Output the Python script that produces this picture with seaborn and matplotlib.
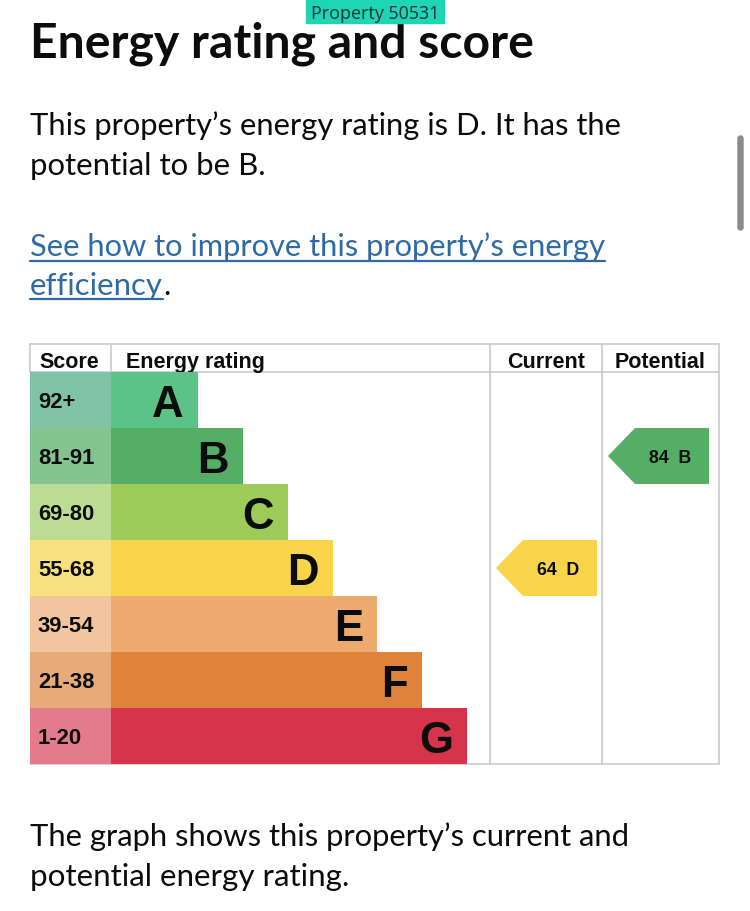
import matplotlib.pyplot as plt
import matplotlib.patches as mpatches
from matplotlib.lines import Line2D
import seaborn as sns
import pandas as pd

# ── Data ──────────────────────────────────────────────────────────────────────
bands = ["A", "B", "C", "D", "E", "F", "G"]
score_ranges = ["92+", "81-91", "69-80", "55-68", "39-54", "21-38", "1-20"]
band_floor = [92, 81, 69, 55, 39, 21, 1]
bar_lengths = [87, 132, 177, 222, 266, 311, 356]  # px
bar_colors = ["#5cc386", "#55ae65", "#9ccb5a", "#f8d44a", "#eeab70", "#e0833a", "#d6344a"]
cell_colors = ["#7fc4a5", "#84c48f", "#bddc93", "#f9e07f", "#f3c59f", "#e8aa78", "#e47b8d"]
current_score = 64
potential_score = 84

df = pd.DataFrame({"band": bands, "score": score_ranges,
                   "length": bar_lengths, "cell": [1] * len(bands)})

# ── Setup ─────────────────────────────────────────────────────────────────────
sns.set_style("white")
plt.rcParams["font.family"] = ["Lato", "DejaVu Sans"]
INK = "#0b0c0c"
LINK = "#2f6aa5"
GRID = "#c6c6c6"
TABLE_FONT = "Liberation Sans"

W, H = 750, 912
fig = plt.figure(figsize=(W / 100, H / 100), dpi=100)
bg = fig.add_axes([0, 0, 1, 1])
bg.set_xlim(0, W)
bg.set_ylim(H, 0)
bg.axis("off")
renderer = fig.canvas.get_renderer()


def put(x, y, s, width=None, **kw):
    t = bg.text(x, y, s, va="baseline", **kw)
    if width:
        w = t.get_window_extent(renderer).width
        t.set_fontsize(t.get_fontsize() * width / w)
    return t


def underline(t, y):
    ext = t.get_window_extent(renderer)
    bg.add_line(Line2D([ext.x0, ext.x1], [y, y], color=LINK, lw=1.6))


# ── Page text ─────────────────────────────────────────────────────────────────
bg.add_patch(mpatches.Rectangle((306, 0), 138, 24, color="#1fd6b4", zorder=5))
put(311, 19, "Property 50531", width=129, fontsize=13, color="#133b44",
    family="Noto Sans", zorder=6)
put(30, 57, "Energy rating and score", width=505, fontsize=32,
    fontweight="bold", color=INK)
put(30, 135, "This property\u2019s energy rating is D. It has the", width=592,
    fontsize=21, color=INK)
put(30, 175, "potential to be B.", width=236, fontsize=21, color=INK)
l1 = put(30, 256, "See how to improve this property\u2019s energy", width=576,
         fontsize=21, color=LINK)
underline(l1, 262)
l2 = put(30, 295, "efficiency", width=133, fontsize=21, color=LINK)
underline(l2, 300)
put(l2.get_window_extent(renderer).x1, 295, ".", fontsize=l2.get_fontsize(), color=INK)
put(30, 846, "The graph shows this property\u2019s current and", width=601,
    fontsize=21, color=INK)
put(30, 886, "potential energy rating.", width=320, fontsize=21, color=INK)

# scrollbar
bg.add_patch(mpatches.FancyBboxPatch((738, 137), 5, 94,
                                     boxstyle="round,pad=0,rounding_size=2.5",
                                     color="#8a8a8a"))

# ── Table frame ───────────────────────────────────────────────────────────────
cols = [30, 111, 490, 602, 719]
top, head, bottom = 345, 373, 765
bg.add_line(Line2D([cols[0], cols[-1]], [top, top], color=GRID, lw=1.1))
bg.add_line(Line2D([cols[0], cols[-1]], [head, head], color=GRID, lw=1.1))
bg.add_line(Line2D([cols[0], cols[-1]], [bottom, bottom], color=GRID, lw=1.1))
for c in cols[:2]:
    bg.add_line(Line2D([c, c], [top, head], color=GRID, lw=1.1))
for c in cols[2:]:
    bg.add_line(Line2D([c, c], [top, bottom], color=GRID, lw=1.1))

hkw = dict(fontsize=15.5, fontweight="bold", color=INK, family=TABLE_FONT)
put(39, 368, "Score", **hkw)
put(126, 368, "Energy rating", **hkw)
put((cols[2] + cols[3]) / 2, 368, "Current", ha="center", **hkw)
put((cols[3] + cols[4]) / 2, 368, "Potential", ha="center", **hkw)


def body_axes(x0, x1):
    ax = fig.add_axes([x0 / W, 1 - bottom / H, (x1 - x0) / W, (bottom - head) / H])
    ax.patch.set_alpha(0)
    return ax


ROW_PX = (bottom - head) / len(bands)

# ── Score column ──────────────────────────────────────────────────────────────
ax_s = body_axes(cols[0], cols[1])
sns.barplot(data=df, x="cell", y="band", hue="band", palette=cell_colors,
            width=1, saturation=1, linewidth=0, legend=False, orient="h", ax=ax_s)
ax_s.set_xlim(0, 1)
ax_s.axis("off")
for i, s in enumerate(score_ranges):
    ax_s.text(8 / (cols[1] - cols[0]), i + 7.5 / ROW_PX, s, va="baseline",
              fontsize=15.8, fontweight="bold", color=INK, family=TABLE_FONT)

# ── Energy rating bars ────────────────────────────────────────────────────────
ax_r = body_axes(cols[1], cols[2])
sns.barplot(data=df, x="length", y="band", hue="band", palette=bar_colors,
            width=1, saturation=1, linewidth=0, legend=False, orient="h", ax=ax_r)
ax_r.set_xlim(0, cols[2] - cols[1])
ax_r.axis("off")
for i, (b, L) in enumerate(zip(bands, bar_lengths)):
    ax_r.text(L - 14, i + 16 / ROW_PX, b, ha="right", va="baseline",
              fontsize=31.5, fontweight="bold", color=INK, family=TABLE_FONT)


# ── Current / Potential arrows ────────────────────────────────────────────────
def band_of(score):
    return next(i for i, f in enumerate(band_floor) if score >= f)


def arrow(x0, x1, score):
    ax = body_axes(x0, x1)
    ax.set_xlim(0, x1 - x0)
    ax.set_ylim(len(bands) - 0.5, -0.5)
    ax.axis("off")
    i = band_of(score)
    tip, shoulder, right = 6, 33, 107
    ax.add_patch(mpatches.Polygon(
        [(tip, i), (shoulder, i - 0.5), (right, i - 0.5), (right, i + 0.5), (shoulder, i + 0.5)],
        closed=True, color=bar_colors[i], lw=0))
    ax.text((shoulder + right) / 2 - 2, i + 6 / ROW_PX, f"{score}  {bands[i]}",
            ha="center", va="baseline", fontsize=12.8, fontweight="bold",
            color=INK, family=TABLE_FONT)


arrow(cols[2], cols[3], current_score)
arrow(cols[3], cols[4], potential_score)

fig.savefig("out.png", dpi=100)
